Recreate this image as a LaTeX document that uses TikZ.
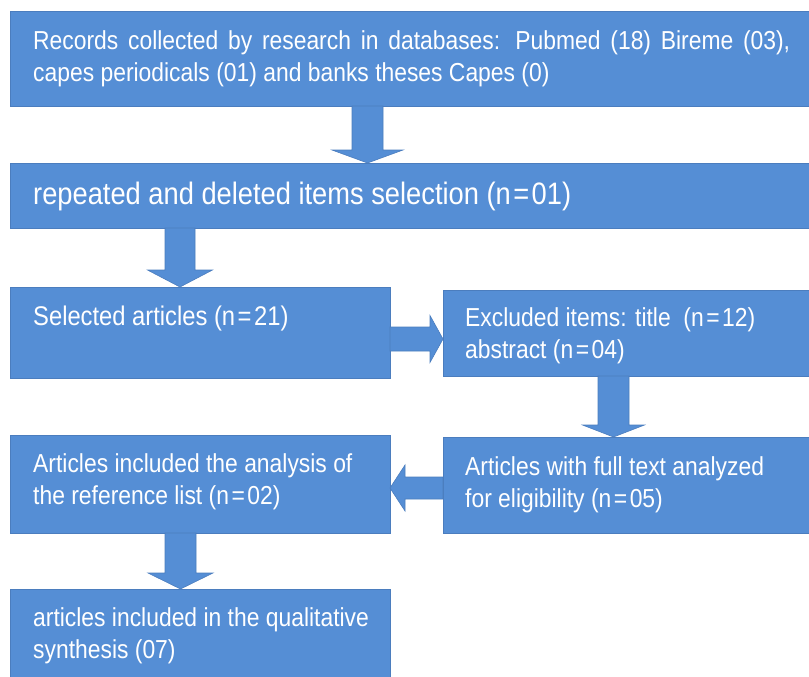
\documentclass[tikz,border=0pt]{standalone}
\usepackage{fontspec}
\setmainfont{Liberation Sans}[FakeStretch=0.88]
\usetikzlibrary{calc}
\definecolor{boxfill}{RGB}{85,142,213}
\definecolor{boxline}{RGB}{75,125,190}
\newcommand\eqs{\kern2.5pt=\kern2.5pt}
\tikzset{
 box/.style={draw=boxline, line width=0.8pt, fill=boxfill, rectangle, anchor=north west, inner sep=0pt, outer sep=0pt},
 txt/.style={text=white, anchor=west, align=left, inner sep=0pt, font=\fontsize{26}{32}\selectfont},
 bigtxt/.style={txt, font=\fontsize{31}{38}\selectfont},
 blk/.style={fill=boxfill, draw=boxline, line width=0.6pt, line join=miter},
}
% vertical block arrow: x, from node, to node, shaft half width, head half width, head length
\newcommand\vblk[6]{%
 \path[blk] let \p1=(#2.south), \p2=(#3.north) in
 ({(#1-#4)*1pt},\y1) -- ({(#1+#4)*1pt},\y1) -- ({(#1+#4)*1pt},{\y2+#6pt}) -- ({(#1+#5)*1pt},{\y2+#6pt}) -- ({#1*1pt},\y2) -- ({(#1-#5)*1pt},{\y2+#6pt}) -- ({(#1-#4)*1pt},{\y2+#6pt}) -- cycle;}
% horizontal block arrow: y, from point, to point, shaft half width, head half width, head length
\newcommand\hblk[6]{%
 \path[blk] let \p1=(#2), \p2=(#3), \n1={sign(\x2-\x1)} in
 (\x1,{-(#1-#4)*1pt}) -- ({\x2-\n1*#6pt},{-(#1-#4)*1pt}) -- ({\x2-\n1*#6pt},{-(#1-#5)*1pt}) -- (\x2,{-#1*1pt}) -- ({\x2-\n1*#6pt},{-(#1+#5)*1pt}) -- ({\x2-\n1*#6pt},{-(#1+#4)*1pt}) -- (\x1,{-(#1+#4)*1pt}) -- cycle;}
\begin{document}
\begin{tikzpicture}[x=1pt,y=-1pt]
\useasboundingbox (0,0) rectangle (809,677);
% boxes
\node[box, minimum width=803pt, minimum height=95pt] (b1) at (10,11) {};
\node[box, minimum width=803pt, minimum height=65pt] (b2) at (10,163) {};
\node[box, minimum width=380pt, minimum height=91pt] (b3) at (10,287) {};
\node[box, minimum width=370pt, minimum height=86pt] (b4) at (443,290) {};
\node[box, minimum width=370pt, minimum height=96pt] (b5) at (443,437) {};
\node[box, minimum width=380pt, minimum height=98pt] (b6) at (10,435) {};
\node[box, minimum width=380pt, minimum height=94pt] (b7) at (10,589) {};
% arrows
\vblk{367.5}{b1}{b2}{15.5}{35.5}{13}
\vblk{180}{b2}{b3}{15}{32.5}{17}
\hblk{339}{b3.east}{b4.west}{12}{23.5}{13}
\vblk{613.5}{b4}{b5}{15.5}{31}{12}
\hblk{488}{b5.west}{b6.east}{11}{23}{15}
\vblk{180.5}{b6}{b7}{15.5}{32.5}{16}
% texts
\node[txt] (t1) at ($(b1.west)+(23,0)$) {\makebox[757pt][s]{Records collected by research in databases: Pubmed (18) Bireme (03),}\\capes periodicals (01) and banks theses Capes (0)};
\node[bigtxt] (t2) at ($(b2.west)+(23,1)$) {repeated and deleted items selection (n\eqs 01)};
\node[txt, font=\fontsize{27}{32}\selectfont] (t3) at ($(b3.west)+(23,-13.5)$) {Selected articles (n\eqs 21)};
\node[txt] (t4) at ($(b4.west)+(22,3)$) {Excluded items: title~ (n\eqs 12)\\abstract (n\eqs 04)};
\node[txt] (t5) at ($(b5.west)+(22,0)$) {Articles with full text analyzed\\for eligibility (n\eqs 05)};
\node[txt] (t6) at ($(b6.west)+(23,-2)$) {Articles included the analysis of\\the reference list (n\eqs 02)};
\node[txt] (t7) at ($(b7.west)+(23,0)$) {articles included in the qualitative\\synthesis (07)};
\end{tikzpicture}
\end{document}
